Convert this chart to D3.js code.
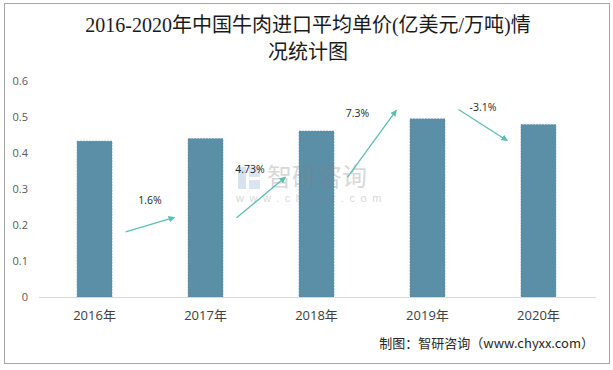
<!DOCTYPE html>
<html>
<head>
<meta charset="utf-8">
<script src="https://cdn.jsdelivr.net/npm/d3@7"></script>
<style>
  body { margin: 0; background: #fff; }
  svg { display: block; }
</style>
</head>
<body>
<div id="chart"></div>
<script>
// data
var years = ['2016年', '2017年', '2018年', '2019年', '2020年']
var prices = [0.433, 0.44, 0.461, 0.495, 0.479]
var yTicks = [0, 0.1, 0.2, 0.3, 0.4, 0.5, 0.6]
var growthLabels = ['1.6%', '4.73%', '7.3%', '-3.1%']
// arrow start / end levels (in axis units) and label levels
var arrowFrom = [0.181, 0.22, 0.333, 0.521]
var arrowTo = [0.221, 0.333, 0.519, 0.434]
var labelAt = [0.269, 0.355, 0.511, 0.528]

var width = 613, height = 370
var margin = {top: 81, right: 19, bottom: 73, left: 39}
var teal = '#5cbdb5'

var svg = d3.select('#chart').append('svg')
  .attr('width', width)
  .attr('height', height)

svg.append('defs').append('marker')
  .attr('id', 'arrow')
  .attr('viewBox', '0 0 10 10')
  .attr('refX', 9)
  .attr('refY', 5)
  .attr('markerWidth', 5)
  .attr('markerHeight', 5)
  .attr('orient', 'auto')
  .append('path')
  .attr('d', 'M0,0 L10,5 L0,10 z')
  .attr('fill', teal)

// outer frame
svg.append('rect')
  .attr('x', 4.5).attr('y', 3.5)
  .attr('width', 605).attr('height', 360)
  .attr('fill', 'none')
  .attr('stroke', '#a6a6a6')
  .attr('stroke-width', 1)

var title = svg.append('text')
  .attr('text-anchor', 'middle')
  .attr('font-family', '"Liberation Serif", "Noto Sans CJK SC", serif')
  .attr('font-size', 20)
  .attr('fill', '#1a1a1a')
title.append('tspan').attr('x', 308).attr('y', 32).text('2016-2020年中国牛肉进口平均单价(亿美元/万吨)情')
title.append('tspan').attr('x', 308).attr('y', 59).text('况统计图')

var x = d3.scaleBand()
  .domain(years)
  .range([margin.left, width - margin.right])
  .paddingInner(0.685)
  .paddingOuter(0.343)

var y = d3.scaleLinear()
  .domain([0, 0.6])
  .range([height - margin.bottom, margin.top])

// y axis labels
svg.append('g')
  .attr('transform', 'translate(28,0)')
  .call(d3.axisLeft(y).tickValues(yTicks).tickSize(0).tickPadding(0)
    .tickFormat(function (d) { return d === 0 ? '0' : d3.format('.1f')(d) }))
  .call(function (g) { g.select('.domain').remove() })
  .selectAll('text')
  .attr('font-family', '"Open Sans", Calibri, sans-serif')
  .attr('font-size', 11)
  .attr('fill', '#595959')

// bars
svg.selectAll('.bar')
  .data(prices)
  .enter().append('rect')
  .attr('class', 'bar')
  .attr('x', function (d, i) { return x(years[i]) })
  .attr('y', function (d) { return y(d) })
  .attr('width', x.bandwidth())
  .attr('height', function (d) { return y(0) - y(d) })
  .attr('fill', '#5b8fa8')
  .attr('stroke', '#4f7f97')
  .attr('stroke-width', 0.5)
  .attr('stroke-dasharray', '2,1')

// x axis
var xAxis = svg.append('g')
  .attr('transform', 'translate(0,' + y(0) + ')')
  .call(d3.axisBottom(x).tickSize(0).tickPadding(14))
xAxis.select('.domain')
  .attr('stroke', '#d9d9d9')
  .attr('d', 'M' + margin.left + ',0.5H' + (width - margin.right + 2))
xAxis.selectAll('text')
  .attr('font-family', '"Open Sans", "Noto Sans CJK SC", sans-serif')
  .attr('font-size', 13)
  .attr('fill', '#404040')

// watermark, on top of the bars
var wm = svg.append('g').attr('opacity', 0.3)
wm.append('rect').attr('x', 238).attr('y', 167).attr('width', 8).attr('height', 22).attr('fill', '#7f9fd6')
wm.append('rect').attr('x', 249).attr('y', 167).attr('width', 11).attr('height', 10).attr('fill', '#8aa8da')
wm.append('rect').attr('x', 249).attr('y', 180).attr('width', 11).attr('height', 9).attr('fill', '#8aa8da')
wm.append('text')
  .attr('x', 267).attr('y', 186)
  .attr('font-family', '"Noto Sans CJK SC"')
  .attr('font-size', 25)
  .attr('fill', '#808080')
  .text('智研咨询')
wm.append('text')
  .attr('x', 236).attr('y', 202)
  .attr('font-family', 'Arial, "Liberation Sans"')
  .attr('font-size', 11)
  .attr('letter-spacing', 5.6)
  .attr('fill', '#808080')
  .text('www.chyxx.com')

// growth arrows between bars
var step = x.step()
svg.selectAll('.growth')
  .data(growthLabels)
  .enter().append('line')
  .attr('class', 'growth')
  .attr('x1', function (d, i) { return x(years[i]) + x.bandwidth() / 2 + step * 0.28 })
  .attr('y1', function (d, i) { return y(arrowFrom[i]) })
  .attr('x2', function (d, i) { return x(years[i + 1]) + x.bandwidth() / 2 - step * 0.28 })
  .attr('y2', function (d, i) { return y(arrowTo[i]) })
  .attr('stroke', teal)
  .attr('stroke-width', 1.3)
  .attr('marker-end', 'url(#arrow)')

var labelShift = [0, -0.1, -0.13, 0]
svg.selectAll('.glabel')
  .data(growthLabels)
  .enter().append('text')
  .attr('class', 'glabel')
  .attr('x', function (d, i) { return x(years[i]) + x.bandwidth() / 2 + step * (0.5 + labelShift[i]) })
  .attr('y', function (d, i) { return y(labelAt[i]) + 4 })
  .attr('text-anchor', 'middle')
  .attr('font-family', '"Open Sans", Calibri, sans-serif')
  .attr('font-size', 10.5)
  .attr('fill', '#262626')
  .text(function (d) { return d })

// source note
svg.append('text')
  .attr('x', 594).attr('y', 348)
  .attr('text-anchor', 'end')
  .attr('font-family', '"Noto Sans CJK SC", "Liberation Mono", monospace')
  .attr('font-size', 13)
  .attr('fill', '#262626')
  .text('制图：智研咨询（www.chyxx.com）')
</script>
</body>
</html>
